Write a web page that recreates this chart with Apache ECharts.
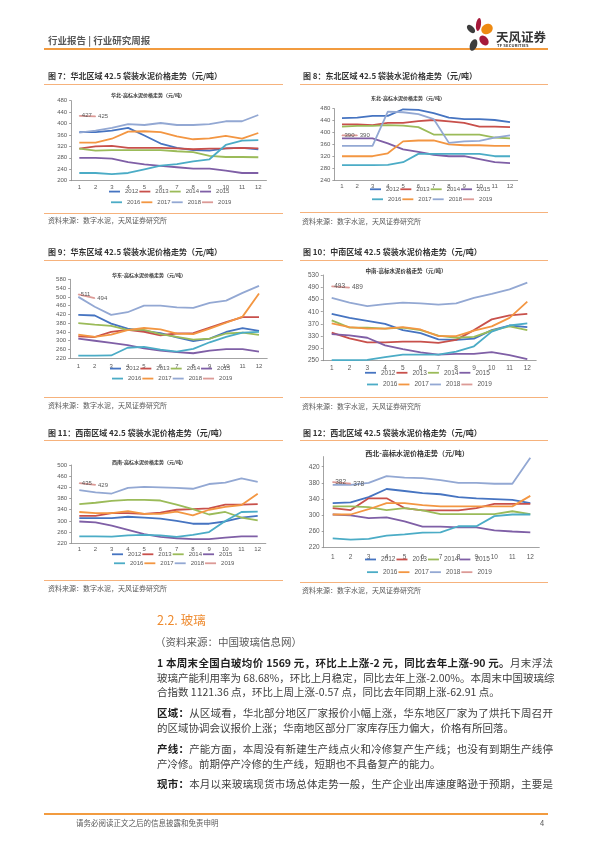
<!DOCTYPE html>
<html><head><meta charset="utf-8">
<script src="https://cdn.jsdelivr.net/npm/echarts@6/dist/echarts.min.js"></script>
<style>
html,body{margin:0;padding:0;background:#fff;}
#page{position:relative;width:596px;height:842px;overflow:hidden;font-family:"Noto Sans CJK SC","Noto Sans",sans-serif;}
#chart{position:absolute;left:0;top:0;width:596px;height:842px;}
.t{position:absolute;white-space:nowrap;line-height:1.2;transform:translateY(-50%);}
.ln{position:absolute;height:1px;background:#F6B27C;}
.ft{font-size:8px;font-weight:bold;color:#333;}
.src{font-size:7px;color:#595959;}
.p{position:absolute;left:157px;width:396px;font-size:10.5px;color:#404040;line-height:1.2;transform:translateY(-50%);white-space:nowrap;}
.j{text-align:justify;text-align-last:justify;}
.p b{color:#222;}
.pet{position:absolute;border-radius:50%;}
</style></head>
<body><div id="page">
<div id="chart"></div>

<!-- header -->
<div class="t" style="left:48px;top:41px;font-size:9.5px;color:#595959;font-weight:bold;">行业报告 | 行业研究周报</div>
<div style="position:absolute;left:44px;top:48px;width:504px;height:2px;background:#F29B3F;"></div>
<div class="pet" style="left:468px;top:24px;width:6px;height:10px;background:#3d3d3d;transform:rotate(-45deg);"></div>
<div class="pet" style="left:476px;top:18px;width:5px;height:13px;background:#A6193A;transform:rotate(8deg);"></div>
<div class="pet" style="left:481px;top:24px;width:12px;height:10px;background:#EE8A12;transform:rotate(-30deg);"></div>
<div class="pet" style="left:480px;top:35px;width:8px;height:11px;background:#A6193A;transform:rotate(-40deg);"></div>
<div class="pet" style="left:470px;top:39px;width:7px;height:12px;background:#3d3d3d;transform:rotate(20deg);"></div>
<div class="t" style="left:496px;top:36px;font-size:12.5px;font-weight:bold;color:#333;">天风证券</div>
<div class="t" style="left:497px;top:45px;font-size:4px;font-weight:bold;color:#333;letter-spacing:0.2px;">TF SECURITIES</div>

<!-- figure titles and sources -->
<div class="t ft" style="left:48px;top:76px;">图 7：华北区域 42.5 袋装水泥价格走势（元/吨）</div>
<div class="ln" style="left:44px;top:84px;width:239px;"></div>
<div class="ln" style="left:44px;top:213px;width:239px;"></div>
<div class="t src" style="left:48px;top:220px;">资料来源：数字水泥，天风证券研究所</div>

<div class="t ft" style="left:303px;top:76px;">图 8：东北区域 42.5 袋装水泥价格走势（元/吨）</div>
<div class="ln" style="left:300px;top:84px;width:248px;"></div>
<div class="ln" style="left:300px;top:212px;width:248px;"></div>
<div class="t src" style="left:302px;top:220.5px;">资料来源：数字水泥，天风证券研究所</div>

<div class="t ft" style="left:48px;top:252px;">图 9：华东区域 42.5 袋装水泥价格走势（元/吨）</div>
<div class="ln" style="left:44px;top:260px;width:239px;"></div>
<div class="ln" style="left:44px;top:397px;width:239px;"></div>
<div class="t src" style="left:48px;top:405px;">资料来源：数字水泥，天风证券研究所</div>

<div class="t ft" style="left:303px;top:252px;">图 10：中南区域 42.5 袋装水泥价格走势（元/吨）</div>
<div class="ln" style="left:300px;top:260px;width:248px;"></div>
<div class="ln" style="left:300px;top:397px;width:248px;"></div>
<div class="t src" style="left:302px;top:405.5px;">资料来源：数字水泥，天风证券研究所</div>

<div class="t ft" style="left:48px;top:433px;">图 11：西南区域 42.5 袋装水泥价格走势（元/吨）</div>
<div class="ln" style="left:44px;top:440px;width:239px;"></div>
<div class="ln" style="left:44px;top:580px;width:239px;"></div>
<div class="t src" style="left:48px;top:588px;">资料来源：数字水泥，天风证券研究所</div>

<div class="t ft" style="left:303px;top:433px;">图 12：西北区域 42.5 袋装水泥价格走势（元/吨）</div>
<div class="ln" style="left:300px;top:440px;width:248px;"></div>
<div class="ln" style="left:300px;top:582px;width:248px;"></div>
<div class="t src" style="left:302px;top:590px;">资料来源：数字水泥，天风证券研究所</div>

<!-- text section -->
<div class="t" style="left:157px;top:619px;font-size:12.5px;color:#EE8A2E;">2.2. 玻璃</div>
<div class="t" style="left:155px;top:642px;font-size:10.5px;color:#595959;">（资料来源：中国玻璃信息网）</div>
<div class="p j" style="top:663px;"><b>1 本周末全国白玻均价 1569 元，环比上上涨-2 元，同比去年上涨-90 元。</b>月末浮法</div>
<div class="p j" style="top:677.5px;">玻璃产能利用率为 68.68%，环比上月稳定，同比去年上涨-2.00%。本周末中国玻璃综</div>
<div class="p" style="top:692px;">合指数 1121.36 点，环比上周上涨-0.57 点，同比去年同期上涨-62.91 点。</div>
<div class="p j" style="top:713px;"><b>区域：</b>从区域看，华北部分地区厂家报价小幅上涨，华东地区厂家为了烘托下周召开</div>
<div class="p" style="top:727.5px;">的区域协调会议报价上涨；华南地区部分厂家库存压力偏大，价格有所回落。</div>
<div class="p j" style="top:749px;"><b>产线：</b>产能方面，本周没有新建生产线点火和冷修复产生产线；也没有到期生产线停</div>
<div class="p" style="top:763.5px;">产冷修。前期停产冷修的生产线，短期也不具备复产的能力。</div>
<div class="p j" style="top:784px;"><b>现市：</b>本月以来玻璃现货市场总体走势一般，生产企业出库速度略逊于预期，主要是</div>

<!-- footer -->
<div style="position:absolute;left:44px;top:813px;width:504px;height:1.5px;background:#F29B3F;"></div>
<div class="t" style="left:76px;top:822px;font-size:7.5px;color:#595959;">请务必阅读正文之后的信息披露和免责申明</div>
<div class="t" style="left:540px;top:822px;font-size:7.5px;color:#595959;">4</div>
</div>

<script>
const months = ['1','2','3','4','5','6','7','8','9','10','11','12'];
const years = ['2012','2013','2014','2015','2016','2017','2018','2019'];
const regionNames = ['华北','东北','华东','中南','西南','西北'];

// rows: 2012 .. 2019 (2019 has Jan, Feb only)
const huabeiPrice = [
  [370,370,375,385,358,330,315,307,305,313,315,310],
  [312,320,322,315,315,315,313,310,312,313,315,313],
  [312,305,307,307,307,307,303,300,287,283,283,282],
  [280,280,277,265,257,252,247,242,242,235,227,227],
  [227,227,223,227,240,253,258,268,275,325,340,342],
  [333,333,347,372,373,370,355,345,348,357,347,367],
  [368,375,385,398,395,402,395,395,398,408,408,430],
  [427,425]
];
const dongbeiPrice = [
  [448,450,456,456,478,476,465,450,445,445,442,435],
  [427,427,425,432,432,438,442,437,432,420,420,418],
  [420,422,422,425,423,418,393,393,393,393,383,380],
  [380,380,380,363,343,335,325,320,320,310,300,297],
  [290,290,290,291,300,328,328,328,328,328,320,320],
  [320,320,320,330,370,373,373,360,357,357,355,355],
  [355,355,355,470,468,462,445,365,370,372,383,390],
  [390,390]
];
const huadongPrice = [
  [418,415,378,355,345,335,315,298,310,340,358,345],
  [320,317,340,350,340,325,333,335,360,385,408,408],
  [380,373,368,350,350,330,318,305,310,333,337,327],
  [310,300,290,280,265,255,248,243,255,262,262,250],
  [232,232,233,268,272,260,250,263,293,318,337,340],
  [328,318,328,348,358,352,332,330,355,382,410,515],
  [500,455,418,430,460,460,452,450,473,483,518,550],
  [511,494]
];
const zhongnanPrice = [
  [403,390,380,370,350,340,320,318,322,350,365,360],
  [342,323,310,310,312,312,308,318,350,385,398,403],
  [382,358,358,355,358,350,332,325,328,348,362,350],
  [337,333,325,300,288,277,270,272,272,278,268,255],
  [252,252,253,262,270,270,270,280,297,345,365,372],
  [372,360,355,355,360,352,330,330,348,362,390,443],
  [455,440,428,435,440,437,433,437,455,468,483,505],
  [493,489]
];
const xinanPrice = [
  [310,310,310,315,312,308,300,290,290,298,312,318],
  [318,318,328,328,325,330,340,342,345,358,358,360],
  [360,365,372,375,375,373,358,342,323,332,312,302],
  [298,295,283,268,253,243,238,235,235,240,245,245],
  [245,245,244,248,250,248,243,250,260,300,332,333],
  [332,328,328,335,325,325,333,320,340,350,357,397],
  [410,402,398,418,422,420,418,415,432,437,452,440],
  [435,429]
];
const xibeiPrice = [
  [330,332,345,365,360,355,352,345,342,340,338,330],
  [318,313,342,342,318,312,312,312,318,328,328,328],
  [322,322,320,313,318,312,303,303,303,303,310,303],
  [302,300,293,295,285,272,272,270,270,263,260,258],
  [243,240,242,250,253,257,258,273,273,298,302,302],
  [302,302,315,330,330,325,322,322,322,322,322,348],
  [375,375,380,397,393,392,387,380,380,378,378,442],
  [382,378]
];

const colors = ['#4674C1','#C8504B','#9BBB59','#7F5FA6','#4BACC6','#F39642','#93A8D3','#DC9A96'];
const numFont = '"Liberation Sans", Arial, sans-serif';

const layouts = [
  {rows: huabeiPrice,   c1:79.3,  c12:258.3, yTop:100.7, yBot:180.7, min:200, max:480, fs:6,   lgLeft:109, lgY:[192.3,203],   labY:187.3, tx:148, ty:95,    tfs:5},
  {rows: dongbeiPrice,  c1:342,   c12:510,   yTop:108.7, yBot:180,   min:240, max:480, fs:6,   lgLeft:370, lgY:[190,200],     labY:186.7, tx:408, ty:98,    tfs:5},
  {rows: huadongPrice,  c1:78.3,  c12:259,   yTop:279.3, yBot:358.3, min:220, max:580, fs:6,   lgLeft:110, lgY:[369.3,379.3], labY:366,   tx:149, ty:275,   tfs:5},
  {rows: zhongnanPrice, c1:331.7, c12:527.3, yTop:275,   yBot:360.7, min:250, max:530, fs:6.5, lgLeft:365, lgY:[373.3,385],   labY:368.3, tx:406, ty:270.7, tfs:5.5},
  {rows: xinanPrice,    c1:79.3,  c12:257.7, yTop:465,   yBot:543.3, min:220, max:500, fs:6,   lgLeft:112, lgY:[555,564],     labY:549.3, tx:149, ty:461.7, tfs:5},
  {rows: xibeiPrice,    c1:332.7, c12:530.3, yTop:456.6, yBot:547.7, min:220, max:445, fs:6.5, lgLeft:365, lgY:[560,572.7],   labY:556.7, tx:417, ty:453.3, tfs:7}
];

const grid = [], xAxis = [], yAxis = [], series = [], legend = [], graphic = [];
layouts.forEach((L, i) => {
  const band = (L.c12 - L.c1) / 11;
  grid.push({left: L.c1 - band/2, top: L.yTop, width: band*12, height: L.yBot - L.yTop,
             containLabel: false, outerBoundsMode: 'none'});
  xAxis.push({type:'category', gridIndex:i, data: months, boundaryGap:true,
    axisLine:{show:true, lineStyle:{color:'#8c8c8c', width:0.8}},
    axisTick:{show:false},
    axisLabel:{fontSize:L.fs, color:'#595959', fontFamily:numFont, margin: L.labY - L.yBot - L.fs/2, interval:0},
    splitLine:{show:false}});
  yAxis.push({type:'value', gridIndex:i, min:L.min, max:L.max, interval:40,
    axisLine:{show:true, lineStyle:{color:'#8c8c8c', width:0.8}},
    axisTick:{show:true, length:2, lineStyle:{color:'#8c8c8c', width:0.8}},
    axisLabel:{fontSize:L.fs, color:'#595959', fontFamily:numFont, margin:4, showMaxLabel: (L.max - L.min) % 40 === 0},
    splitLine:{show:false}});
  L.rows.forEach((row, j) => {
    const s = {type:'line', name: years[j], xAxisIndex:i, yAxisIndex:i, data: row,
      symbol:'none', showSymbol:false, smooth:false, color: colors[j],
      lineStyle:{width:1.8, color: colors[j]}, emphasis:{disabled:true}, z: 2 + j};
    if (j === 7) {
      s.symbol = 'circle'; s.showSymbol = true; s.symbolSize = 1;
      s.label = {show:true, position:'right', distance:2, fontSize:L.fs, color:'#595959', fontFamily:numFont, formatter:'{c}'};
      s.labelLayout = {hideOverlap:false};
    }
    series.push(s);
  });
  [0,1].forEach(r => {
    legend.push({data: years.slice(r*4, r*4+4), left: L.lgLeft + (r ? 2 : 0), top: L.lgY[r] - L.fs*0.62,
      orient:'horizontal', icon:'rect', itemWidth:11, itemHeight:1.8, itemGap:1, padding:0,
      selectedMode:false, textStyle:{fontSize:L.fs, color:'#595959', fontFamily:numFont}});
  });
  graphic.push({type:'text', x:L.tx, y:L.ty, silent:true,
    style:{text: regionNames[i] + '-高标水泥价格走势（元/吨）', align:'center', verticalAlign:'middle',
      font:'bold ' + L.tfs + 'px "Noto Sans CJK SC", sans-serif', fill:'#333'}});
});

const chart = echarts.init(document.getElementById('chart'), null, {renderer:'canvas'});
chart.setOption({animation:false, backgroundColor:'transparent', grid, xAxis, yAxis, series, legend, graphic, tooltip:{show:false}});
</script>
</body></html>
